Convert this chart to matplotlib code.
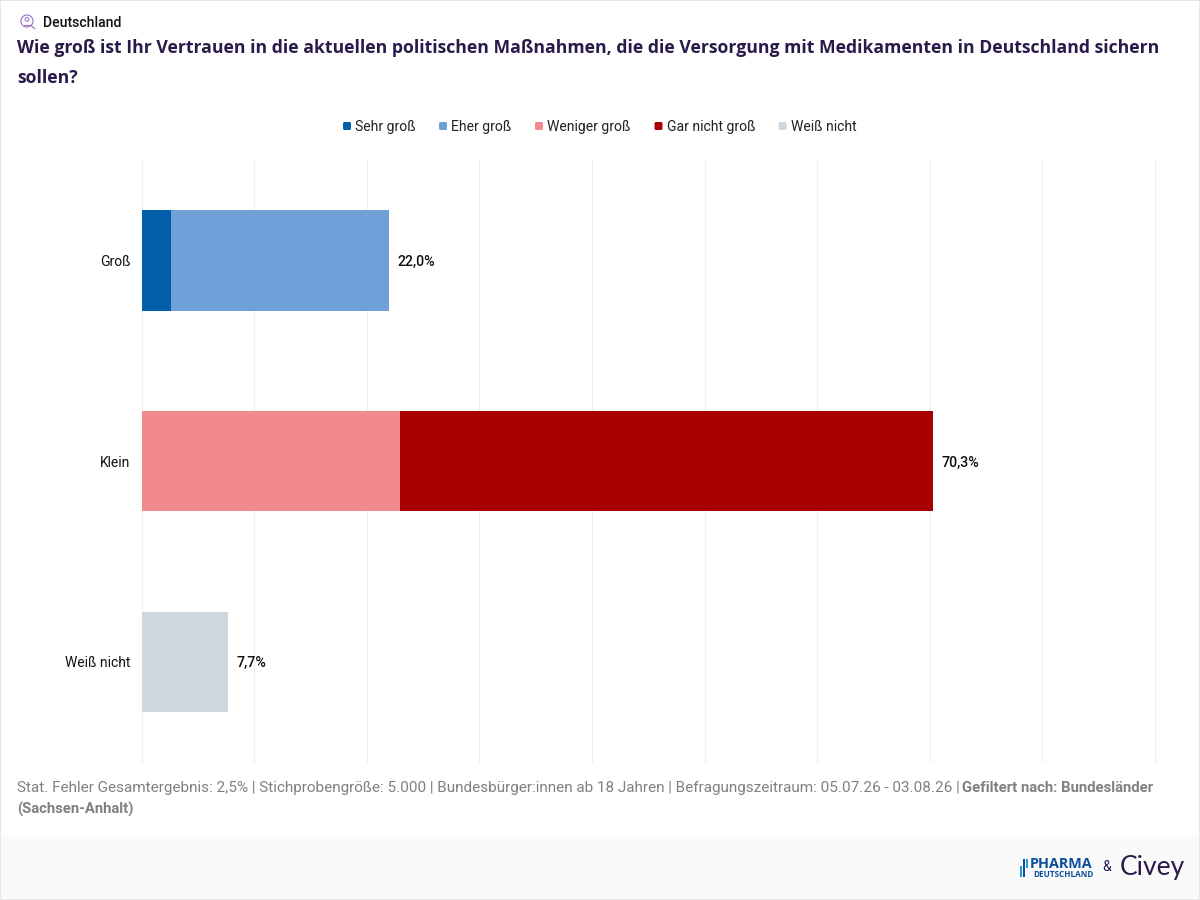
import matplotlib
matplotlib.use("Agg")
import matplotlib.pyplot as plt
from matplotlib.patches import Rectangle, FancyBboxPatch, Circle
from matplotlib.lines import Line2D

categories = ["Groß", "Klein", "Weiß nicht"]
series_names = ["Sehr groß", "Eher groß", "Weniger groß", "Gar nicht groß", "Weiß nicht"]
sehr_gross = [2.6, 0, 0]
eher_gross = [19.4, 0, 0]
weniger_gross = [0, 22.9, 0]
gar_nicht_gross = [0, 47.4, 0]
weiss_nicht = [0, 0, 7.7]
totals = ["22,0%", "70,3%", "7,7%"]
colors = ["#005fa8", "#6fa1d8", "#f2898f", "#a70000", "#cfd7de"]
title = ("Wie groß ist Ihr Vertrauen in die aktuellen politischen Maßnahmen, die die Versorgung mit Medikamenten in Deutschland sichern",
         "sollen?")
total_values = [22.0, 70.3, 7.7]

W, H = 1200, 900
plt.rcParams["font.family"] = "Roboto"
fig = plt.figure(figsize=(12, 9), dpi=100, facecolor="white")

def X(px): return px / W
def Y(py): return 1 - py / H

# Background layer
bg = fig.add_axes([0, 0, 1, 1], zorder=0)
bg.set_xlim(0, W); bg.set_ylim(H, 0); bg.axis("off")
bg.add_patch(Rectangle((0, 836), W, 64, color="#fafafa", lw=0))
bg.add_patch(Rectangle((0, 0), W, 1.2, color="#e6e6e6", lw=0))
bg.add_patch(Rectangle((0, 0), 1.2, H, color="#e6e6e6", lw=0))
bg.add_patch(Rectangle((W - 1.2, 0), 1.2, H, color="#e6e6e6", lw=0))
bg.add_patch(Rectangle((0, H - 1.2), W, 1.2, color="#e6e6e6", lw=0))

# Header icon
ICON = "#a27cc6"
bg.add_patch(Circle((27, 21), 6.0, fill=False, ec=ICON, lw=0.9))
bg.add_patch(Circle((27, 19.5), 1.9, fill=False, ec=ICON, lw=0.8))
bg.add_line(Line2D([23.5, 30.5], [25, 25], color=ICON, lw=0.8))
bg.add_line(Line2D([31.5, 34.5], [26, 28.5], color=ICON, lw=0.9))

fig.text(X(43), Y(27), "Deutschland", fontsize=10.1, fontweight="medium", color="#111111", va="baseline", ha="left")
TITLE_KW = dict(fontsize=12.69, family="Open Sans", fontweight="bold", color="#2a1a4a", va="baseline", ha="left")
fig.text(X(17), Y(53), title[0], **TITLE_KW)
fig.text(X(17), Y(83), title[1], **TITLE_KW)

# Main axes
ax = fig.add_axes([X(141.8), Y(762.2), (1013) / W, (602) / H], zorder=1)
ax.patch.set_alpha(0)
ax.set_xlim(0, 90)
ax.set_ylim(2.5, -0.5)
ax.set_xticks(range(0, 100, 10))
ax.tick_params(axis="x", length=0, labelbottom=False)
ax.tick_params(axis="y", length=0, pad=8.4, labelsize=10, labelcolor="#111111")
ax.set_yticks(range(len(categories)))
ax.set_yticklabels(categories)
ax.grid(axis="x", color="#efefef", lw=0.8, clip_on=False)
ax.set_axisbelow(True)
for s in ax.spines.values():
    s.set_visible(False)

left = [0.0] * len(categories)
for vals, c in zip([sehr_gross, eher_gross, weniger_gross, gar_nicht_gross, weiss_nicht], colors):
    ax.barh(range(len(categories)), vals, left=left, height=0.5, color=c, lw=0)
    left = [l + v for l, v in zip(left, vals)]

for i, (t, v) in enumerate(zip(totals, total_values)):
    ax.annotate(t, (v, i), xytext=(8, -1.5), textcoords="offset pixels",
                va="center", ha="left", fontsize=10.2, fontweight="medium", color="#111111")

# Legend
leg_x = [343, 439, 535, 654.5, 778.5]
for name, c, x in zip(series_names, colors, leg_x):
    bg.add_patch(FancyBboxPatch((x, 122), 8, 8, boxstyle="round,pad=0,rounding_size=1.5", color=c, lw=0))
    bg.text(x + 12.2, 131, name, fontsize=10.05, color="#222222", va="baseline", ha="left")

# Footer
foot = "#808080"
f1 = "Stat. Fehler Gesamtergebnis: 2,5% | Stichprobengröße: 5.000 | Bundesbürger:innen ab 18 Jahren | Befragungszeitraum: 05.07.26 - 03.08.26 | "
t1 = bg.text(17, 792, f1, fontsize=10.95, color=foot, va="baseline", ha="left")
fig.canvas.draw()
bb = t1.get_window_extent()
bg.text(bb.x1 - 2, 792, "Gefiltert nach: Bundesländer", fontsize=10.7, fontweight="bold", color=foot, va="baseline", ha="left")
bg.text(17, 814, "(Sachsen-Anhalt)", fontsize=10.7, fontweight="bold", color=foot, va="baseline", ha="left")

# Logos
blue = "#0b4f9c"
bg.add_patch(Rectangle((1020, 866), 1.6, 11, color="#1e9ad6", lw=0))
bg.add_patch(Rectangle((1023, 859), 1.6, 18, color=blue, lw=0))
bg.add_patch(Rectangle((1026, 859), 1.6, 9, color="#1e9ad6", lw=0))
bg.text(1029.5, 863.5, "PHARMA", fontsize=10.4, fontweight="bold", color=blue, va="center", ha="left", family="Open Sans")
bg.text(1033, 874.5, "DEUTSCHLAND", fontsize=5.9, fontweight="bold", color=blue, va="center", ha="left", family="Open Sans")
bg.text(1106.5, 867, "&", fontsize=10, color="#2a1a4a", va="center", ha="center")
bg.text(1120, 867, "Civey", fontsize=19, color="#2a1a4a", va="center", ha="left", family="Lato")

fig.savefig("out.png", dpi=100, facecolor="white")
